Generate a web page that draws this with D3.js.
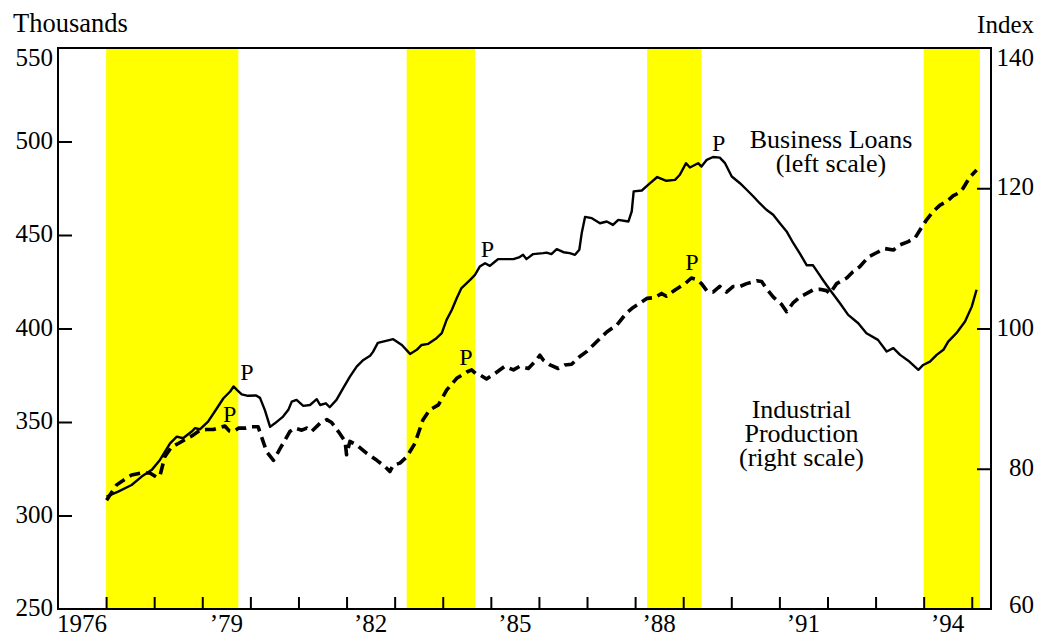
<!DOCTYPE html>
<html>
<head>
<meta charset="utf-8">
<script src="https://cdn.jsdelivr.net/npm/d3@7"></script>
<style>
  html, body { margin: 0; padding: 0; background: #fff; }
  svg { display: block; font-family: "Liberation Serif", "Times New Roman", serif; }
</style>
</head>
<body>
<svg id="chart" width="1039" height="639"></svg>
<script>
// ---------- data ----------
const loansYears = [1977.01,1977.25,1977.53,1977.74,1977.95,1978.12,1978.33,1978.47,1978.6,1978.78,1978.85,1978.95,1979.12,1979.26,1979.44,1979.58,1979.65,1979.72,1979.82,1979.95,1980.12,1980.2,1980.3,1980.41,1980.51,1980.68,1980.79,1980.86,1980.96,1981.1,1981.24,1981.38,1981.45,1981.57,1981.65,1981.79,1981.93,1982.07,1982.21,1982.35,1982.49,1982.55,1982.65,1982.97,1983.15,1983.32,1983.46,1983.56,1983.7,1983.87,1983.98,1984.08,1984.19,1984.29,1984.39,1984.57,1984.67,1984.77,1984.88,1984.98,1985.09,1985.15,1985.47,1985.6,1985.67,1985.74,1985.88,1986.09,1986.16,1986.26,1986.37,1986.51,1986.64,1986.75,1986.84,1986.89,1986.96,1987.1,1987.27,1987.41,1987.54,1987.65,1987.86,1987.93,1987.97,1988.14,1988.27,1988.46,1988.65,1988.83,1988.93,1989.06,1989.14,1989.31,1989.38,1989.49,1989.62,1989.76,1989.87,1990.01,1990.18,1990.32,1990.46,1990.59,1990.73,1990.87,1991.01,1991.15,1991.29,1991.43,1991.57,1991.7,1991.88,1992.05,1992.26,1992.43,1992.64,1992.81,1993.05,1993.23,1993.37,1993.51,1993.68,1993.89,1993.99,1994.13,1994.27,1994.41,1994.51,1994.68,1994.86,1995.0,1995.1];
const loansValues = [310.1,312.8,316.3,320.8,324.4,329.7,338.6,342.2,341.3,344.9,346.7,346.1,350.2,355.6,362.7,366.3,369,367.2,364.8,364,364.2,362.9,356.5,347.4,349.3,352.9,356.5,360.9,361.8,358.6,359.1,362.2,359.1,360,357.9,361.8,368.1,374.3,379.6,383.2,385.4,387.5,392.3,394.3,391.2,386.4,388.6,391.2,391.8,394.8,397.5,404.6,410,416.2,421.6,426,428.7,433.1,434.9,433.5,435.8,437.1,437.1,438.2,439.4,437.1,439.8,440.3,440.6,439.8,442.4,440.8,440.3,439.4,442.1,451,459.7,459,456.3,457.2,455.4,458.1,457.2,462.6,473.3,473.8,476.8,481,479,479.5,482.2,488.4,486.1,488.4,486.6,490.2,491.7,491.4,488.4,481.3,477.7,474.2,470.6,467,463.5,460.8,456.3,451.9,445.6,439.9,433.8,433.8,426.9,420.7,413.5,407.3,402.8,397.5,393.9,387.7,389.5,385.9,382.8,377.9,380.5,382.3,385.9,388.6,393,397.5,403.7,411.7,420.7];

const ipYears = [1977.01,1977.22,1977.39,1977.53,1977.74,1977.91,1978.05,1978.12,1978.22,1978.36,1978.5,1978.68,1978.81,1978.95,1979.09,1979.23,1979.37,1979.47,1979.56,1979.64,1979.76,1979.91,1980.03,1980.16,1980.23,1980.34,1980.48,1980.62,1980.82,1980.93,1981.07,1981.17,1981.27,1981.45,1981.59,1981.69,1981.83,1981.97,1982.0,1982.07,1982.21,1982.42,1982.63,1982.8,1982.9,1982.97,1983.11,1983.25,1983.42,1983.59,1983.73,1983.91,1984.08,1984.29,1984.5,1984.6,1984.7,1984.77,1984.91,1985.09,1985.29,1985.47,1985.6,1985.78,1985.95,1986.02,1986.09,1986.23,1986.4,1986.54,1986.68,1986.85,1986.99,1987.2,1987.41,1987.62,1987.82,1987.96,1988.1,1988.25,1988.41,1988.55,1988.65,1988.83,1989.04,1989.17,1989.28,1989.38,1989.49,1989.62,1989.76,1989.9,1990.04,1990.18,1990.32,1990.53,1990.63,1990.73,1990.87,1991.05,1991.15,1991.29,1991.43,1991.57,1991.7,1991.84,1991.98,1992.05,1992.19,1992.4,1992.53,1992.67,1992.85,1993.02,1993.19,1993.37,1993.5,1993.68,1993.82,1993.92,1994.06,1994.2,1994.34,1994.48,1994.61,1994.72,1994.82,1994.96,1995.1];
const ipValues = [75.5,77.7,78.5,79.1,79.4,79.4,78.8,79,81.7,83.1,83.6,84.3,84.8,85.5,85.6,85.6,85.9,86.1,85.4,85.3,85.8,85.8,86,86,84.6,82.4,81.2,82.9,85.3,85.8,85.5,85.8,85.3,86.5,87,86.6,85.3,83.9,82,83.9,83.4,82.2,81.2,80.3,79.6,80.5,80.8,81.7,83.6,87,88.4,89.1,91.2,92.9,93.8,94.1,93.5,93.4,92.8,93.6,94.6,94.1,94.6,94.3,95.5,96.2,95.5,94.8,94.3,94.8,94.9,96,96.7,98.1,99.5,100.5,102.2,103,103.6,104.3,104.4,105,104.6,105.5,106.4,107.2,107,106.4,105.4,105.2,106,105.2,106,106,106.4,106.8,106.7,105.7,104.5,103.4,102.4,103.7,104.5,105,105.5,105.6,105.4,105,106.4,107.2,108.1,108.8,110.2,110.8,111.4,111.2,111.9,112.4,112.9,114,115.5,116.7,117.6,118.1,118.9,119.3,120,121.6,122.6];

// shaded periods
const bandStarts = [1977.0, 1983.25, 1988.25, 1994.0];
const bandEnds   = [1979.75, 1984.67, 1989.38, 1995.17];

// axes
const leftTicks  = [250, 300, 350, 400, 450, 500, 550];
const rightTicks = [60, 80, 100, 120, 140];
const yearTicks  = [1977,1978,1979,1980,1981,1982,1983,1984,1985,1986,1987,1988,1989,1990,1991,1992,1993,1994,1995];
const yearLabelYears = [1976, 1979, 1982, 1985, 1988, 1991, 1994];
const yearLabels = ["1976", "\u201979", "\u201982", "\u201985", "\u201988", "\u201991", "\u201994"];

// peak markers
const loansPeakYears  = [1979.93, 1984.93, 1989.74];
const loansPeakValues = [372.5, 438.5, 495];
const ipPeakYears  = [1979.57, 1984.48, 1989.18];
const ipPeakValues = [86.7, 94.8, 108.3];

// ---------- layout ----------
const L = 58, R = 991, T = 48, B = 609;
const svg = d3.select("#chart");

const x = d3.scaleLinear().domain([1976, 1995.4]).range([L, R]);
const yL = d3.scaleLinear().domain([250, 550]).range([B, T]);
const yR = d3.scaleLinear().domain([60, 140]).range([B, T]);

// bands
svg.append("g").selectAll("rect").data(d3.range(bandStarts.length)).join("rect")
  .attr("x", i => x(bandStarts[i]))
  .attr("width", i => x(bandEnds[i]) - x(bandStarts[i]))
  .attr("y", T).attr("height", B - T)
  .attr("fill", "#FFFF00");

// frame
svg.append("rect").attr("x", L).attr("y", T).attr("width", R - L).attr("height", B - T)
  .attr("fill", "none").attr("stroke", "#000").attr("stroke-width", 2);

// bottom axis ticks (inward)
const xAxis = d3.axisBottom(x).tickValues(yearTicks).tickSize(-12).tickFormat("");
svg.append("g").attr("transform", `translate(0,${B})`).call(xAxis)
  .call(g => g.select(".domain").remove())
  .call(g => g.selectAll("line").attr("stroke", "#000").attr("stroke-width", 2));

// year labels (centred in year)
svg.append("g").selectAll("text").data(yearLabels).join("text")
  .attr("x", (d, i) => x(yearLabelYears[i] + 0.5))
  .attr("y", 632)
  .attr("text-anchor", "middle")
  .attr("font-size", 25)
  .text(d => d);

// left axis
const leftAxis = d3.axisLeft(yL).tickValues(leftTicks.filter(v => v > 250 && v < 550)).tickSize(-14).tickFormat("");
svg.append("g").attr("transform", `translate(${L},0)`).call(leftAxis)
  .call(g => g.select(".domain").remove())
  .call(g => g.selectAll("line").attr("stroke", "#000").attr("stroke-width", 2));
svg.append("g").selectAll("text").data(leftTicks).join("text")
  .attr("x", 53)
  .attr("y", d => d === 550 ? 66 : yL(d) + 7)
  .attr("text-anchor", "end")
  .attr("font-size", 25)
  .text(d => d);

// right axis
const rightAxis = d3.axisRight(yR).tickValues(rightTicks.filter(v => v > 60 && v < 140)).tickSize(-14).tickFormat("");
svg.append("g").attr("transform", `translate(${R},0)`).call(rightAxis)
  .call(g => g.select(".domain").remove())
  .call(g => g.selectAll("line").attr("stroke", "#000").attr("stroke-width", 2));
svg.append("g").selectAll("text").data(rightTicks).join("text")
  .attr("x", 1034)
  .attr("y", d => d === 140 ? 66 : (d === 60 ? 613 : yR(d) + 7))
  .attr("text-anchor", "end")
  .attr("font-size", 25)
  .text(d => d);

// axis titles
svg.append("text").attr("x", 13).attr("y", 32).attr("font-size", 26.5).text("Thousands");
svg.append("text").attr("x", 1034).attr("y", 33).attr("text-anchor", "end").attr("font-size", 25).text("Index");

// lines
const loansLine = d3.line().x(i => x(loansYears[i])).y(i => yL(loansValues[i]));
const ipLine = d3.line().x(i => x(ipYears[i])).y(i => yR(ipValues[i]));

svg.append("path").attr("d", ipLine(d3.range(ipYears.length)))
  .attr("fill", "none").attr("stroke", "#000").attr("stroke-width", 3.6)
  .attr("stroke-dasharray", "11,6").attr("stroke-linejoin", "round");

svg.append("path").attr("d", loansLine(d3.range(loansYears.length)))
  .attr("fill", "none").attr("stroke", "#000").attr("stroke-width", 2.4)
  .attr("stroke-linejoin", "round");

// peak markers
svg.append("g").selectAll("text").data(loansPeakYears).join("text")
  .attr("x", (d) => x(d)).attr("y", (d, i) => yL(loansPeakValues[i]))
  .attr("text-anchor", "middle").attr("font-size", 24).text("P");
svg.append("g").selectAll("text").data(ipPeakYears).join("text")
  .attr("x", (d) => x(d)).attr("y", (d, i) => yR(ipPeakValues[i]))
  .attr("text-anchor", "middle").attr("font-size", 24).text("P");

// series labels
const blLabel = svg.append("text").attr("text-anchor", "middle").attr("font-size", 26);
blLabel.append("tspan").attr("x", 831).attr("y", 148).text("Business Loans");
blLabel.append("tspan").attr("x", 831).attr("y", 172).text("(left scale)");

const ipLabel = svg.append("text").attr("text-anchor", "middle").attr("font-size", 26);
ipLabel.append("tspan").attr("x", 801.5).attr("y", 418).text("Industrial");
ipLabel.append("tspan").attr("x", 801.5).attr("y", 442).text("Production");
ipLabel.append("tspan").attr("x", 801.5).attr("y", 466).text("(right scale)");
</script>
</body>
</html>
